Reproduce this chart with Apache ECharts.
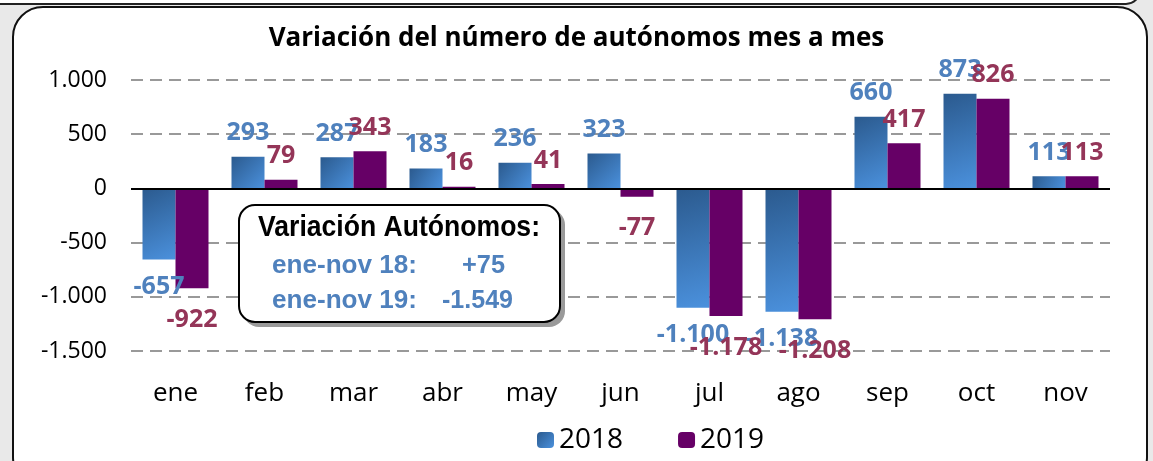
<!DOCTYPE html>
<html><head><meta charset="utf-8">
<script src="https://cdn.jsdelivr.net/npm/echarts@6/dist/echarts.min.js"></script>
<style>html,body{margin:0;padding:0;background:#e9e9e9}#c{width:1153px;height:461px}</style>
</head><body><div id="c"></div>
<script>
const categories = ['ene','feb','mar','abr','may','jun','jul','ago','sep','oct','nov'];
const values2018 = [-657, 293, 287, 183, 236, 323, -1100, -1138, 660, 873, 113];
const values2019 = [-922, 79, 343, 16, 41, -77, -1178, -1208, 417, 826, 113];
const yTicks = [-1500, -1000, -500, 0, 500, 1000];
const seriesNames = ['2018', '2019'];
const titleText = 'Variación del número de autónomos mes a mes';
const boxLines = ['Variación Autónomos:', 'ene-nov 18:', '+75', 'ene-nov 19:', '-1.549'];

function fmt(v){
  const s = Math.abs(v).toString().replace(/\B(?=(\d{3})+(?!\d))/g, '.');
  return (v < 0 ? '-' : '') + s;
}
const ctx = document.createElement('canvas').getContext('2d');
function condensed(text, font, x, y, targetW, color){
  ctx.font = font;
  const w = ctx.measureText(text).width;
  return {type:'text', z:52, x:x, y:y, scaleX:targetW / w,
    style:{text:text, font:font, fill:color, textAlign:'left', textVerticalAlign:'middle'}};
}
const chart = echarts.init(document.getElementById('c'));
const blueGrad = new echarts.graphic.LinearGradient(0,0,1,1,[{offset:0,color:'#2b5a8e'},{offset:1,color:'#4b91dd'}]);
const labelFont = {fontFamily:'Open Sans', fontWeight:'bold', fontSize:25};
const hFont = "bold 29px 'Liberation Sans', Arial, sans-serif";
const bFont = "bold 26px 'Liberation Sans', Arial, sans-serif";
const blue = '#4f81bd';
chart.setOption({
  backgroundColor:'#e9e9e9',
  animation:false,
  graphic:[
    {type:'rect', z:-10, shape:{x:-20,y:-40,width:1160,height:44,r:14}, style:{fill:'#ffffff',stroke:'#222',lineWidth:2}},
    {type:'rect', z:-10, shape:{x:13,y:7,width:1134,height:480,r:30}, style:{fill:'#ffffff',stroke:'#111',lineWidth:2}},
    {type:'rect', z:50, shape:{x:243,y:209,width:322,height:118,r:16}, style:{fill:'#9a9a9a'}},
    {type:'rect', z:51, shape:{x:239,y:205,width:321,height:117,r:16}, style:{fill:'#ffffff',stroke:'#000',lineWidth:2}},
    condensed(boxLines[0], hFont, 258, 228, 282, '#000'),
    condensed(boxLines[1], bFont, 272, 266, 145, blue),
    condensed(boxLines[2], bFont, 462, 266, 43, blue),
    condensed(boxLines[3], bFont, 272, 301, 145, blue),
    condensed(boxLines[4], bFont, 442, 301, 71, blue)
  ],
  title:{text:titleText, left:'center', top:21, textStyle:{fontFamily:'Open Sans', fontWeight:'bold', fontSize:26, color:'#000'}},
  legend:{data:[{name:seriesNames[0], itemStyle:{color:blueGrad}}, {name:seriesNames[1]}], top:421, left:532, itemWidth:17, itemHeight:16, itemGap:55,
    textStyle:{fontFamily:'Open Sans', fontSize:28, color:'#000'}},
  grid:{left:131, right:43, top:80, bottom:110},
  xAxis:{type:'category', data:categories, axisTick:{show:false}, axisLine:{show:false},
    axisLabel:{fontFamily:'Open Sans', fontSize:26, color:'#000', margin:30}},
  yAxis:{type:'value', min:yTicks[0], max:yTicks[yTicks.length-1], interval:500,
    axisLabel:{fontFamily:'Open Sans', fontSize:23, color:'#000', margin:24, formatter:fmt},
    axisLine:{show:false}, axisTick:{show:false},
    splitLine:{lineStyle:{color:'#999', type:[12,7], width:2}}},
  series:[
    {name:seriesNames[0], type:'bar', barWidth:33, barGap:'0%',
      data:values2018.map(v => v < 0 ? {value:v, label:{position:'bottom', distance:15}} : v),
      itemStyle:{color:blueGrad},
      label:{show:true, position:'top', distance:11, color:blue, ...labelFont, formatter:p=>fmt(p.value)},
      markLine:{silent:true, symbol:'none', label:{show:false}, lineStyle:{color:'#000', type:'solid', width:2}, data:[{yAxis:0}]}
    },
    {name:seriesNames[1], type:'bar', barWidth:33,
      data:values2019.map(v => v < 0 ? {value:v, label:{position:'bottom', distance:19}} : v),
      itemStyle:{color:'#660066'},
      label:{show:true, position:'top', distance:11, color:'#943558', ...labelFont, formatter:p=>fmt(p.value)}
    }
  ]
});
</script></body></html>
